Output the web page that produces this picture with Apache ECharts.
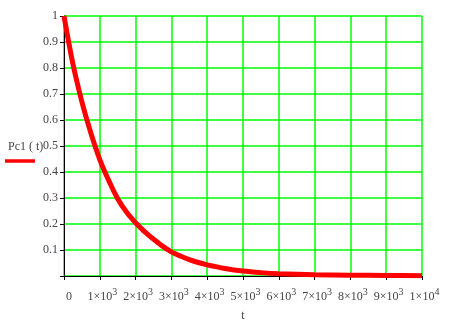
<!DOCTYPE html>
<html><head><meta charset="utf-8">
<script src="https://cdn.jsdelivr.net/npm/echarts@6/dist/echarts.min.js"></script>
<style>html,body{margin:0;padding:0;background:#fff}#c{width:460px;height:328px}</style>
</head><body><div id="c"></div>
<script>
var tValues = [0, 250, 500, 750, 1000, 1250, 1500, 1750, 2000, 2250, 2500, 2750, 3000, 3250, 3500, 3750, 4000, 4500, 5000, 5500, 6000, 7000, 8000, 9000, 10000];
var pc1Values = [1, 0.815, 0.67, 0.55, 0.448, 0.367, 0.297, 0.245, 0.205, 0.171, 0.142, 0.115, 0.093, 0.077, 0.063, 0.052, 0.043, 0.029, 0.019, 0.013, 0.009, 0.005, 0.003, 0.002, 0.001];
var seriesName = 'Pc1 ( t)';
var xTitle = 't';

var chart = echarts.init(document.getElementById('c'));
var data = tValues.map(function (t, i) { return [t, pc1Values[i]]; });
var font = '"Liberation Serif", "Times New Roman", serif';
chart.setOption({
  animation: false,
  grid: { left: 64, right: 38, top: 16, bottom: 52 },
  xAxis: {
    type: 'value', min: 0, max: 10000, interval: 1000,
    axisLine: { lineStyle: { color: '#000', width: 1 } },
    axisTick: { show: true, length: 4, lineStyle: { color: '#000' } },
    splitLine: { show: true, lineStyle: { color: '#00ff00', width: 1.5 } },
    axisLabel: {
      margin: 11, color: '#444', fontFamily: font, fontSize: 12,
      formatter: function (v) {
        if (v === 0) return '{w|00}{n|0}';
        if (v === 10000) return '{w|4}{n|1×10}{s|4}';
        return '{w|3}{n|' + (v / 1000) + '×10}{s|3}';
      },
      rich: {
        n: { fontFamily: font, fontSize: 12, color: '#444' },
        s: { fontFamily: font, fontSize: 10, color: '#444', verticalAlign: 'bottom', padding: [0, 0, 10, 0] },
        w: { fontFamily: font, fontSize: 10, color: 'rgba(0,0,0,0)', verticalAlign: 'bottom', padding: [0, 0, 10, 0] }
      }
    },
    name: xTitle, nameLocation: 'middle', nameGap: 34,
    nameTextStyle: { fontFamily: font, fontSize: 12, color: '#444' }
  },
  yAxis: {
    type: 'value', min: 0, max: 1, interval: 0.1,
    axisLine: { show: true, lineStyle: { color: '#000', width: 1 } },
    axisTick: { show: true, length: 4, lineStyle: { color: '#000' } },
    splitLine: { show: true, lineStyle: { color: '#00ff00', width: 1.5 } },
    axisLabel: {
      margin: 6, color: '#444', fontFamily: font, fontSize: 12,
      formatter: function (v) { return v === 0 ? '' : String(Math.round(v * 10) / 10); }
    }
  },
  graphic: [
    { type: 'text', left: 8, top: 141, style: { text: seriesName, fontFamily: font, fontSize: 12, fill: '#444' } },
    { type: 'line', shape: { x1: 5, y1: 161, x2: 35, y2: 161 }, style: { stroke: '#ff0000', lineWidth: 3.5 } }
  ],
  series: [{
    name: seriesName, type: 'line', data: data, showSymbol: false, smooth: 0.3,
    lineStyle: { color: '#ff0000', width: 5 }, z: 5
  }]
});
</script></body></html>
